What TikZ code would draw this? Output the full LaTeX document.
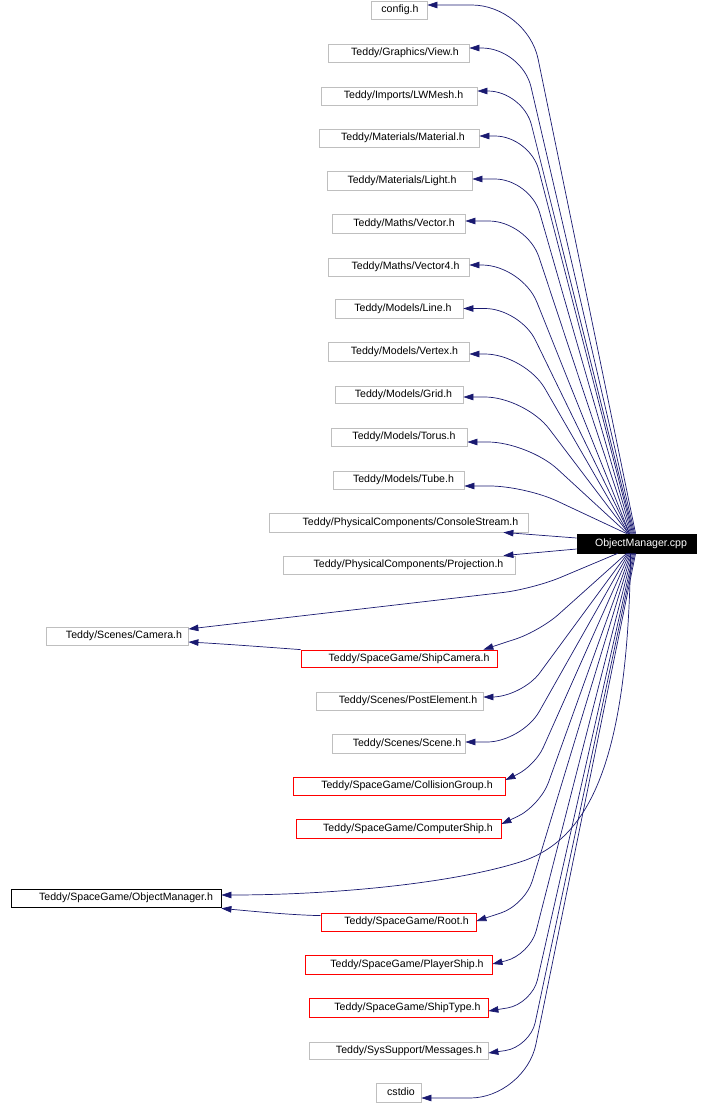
\documentclass[tikz,border=0pt]{standalone}
\usepackage{fontspec}
\setmainfont{Liberation Sans}
\usetikzlibrary{arrows.meta}
\definecolor{edgeblue}{HTML}{191970}
\definecolor{boxgray}{HTML}{BFBFBF}
\newcommand\gn[8]{\node[#6, minimum width={(#4-#2)*1pt}, minimum height={(#5-#3)*1pt}] (#1) at ({(#2+#4)/2},{(#3+#5)/2}) {\hspace*{#7pt}#8};}
\newcommand\pedge[4]{\draw[conn, rounded corners=#4pt] (#1) -- (#2) -- (#3);}
\begin{document}
\begin{tikzpicture}[x=1pt,y=-1pt,
  base/.style={rectangle, inner sep=1pt, line width=0.8pt, font=\fontsize{10.6}{12}\selectfont, text height=7.6pt, text depth=2pt},
  gbox/.style={base, draw=boxgray},
  rbox/.style={base, draw=red},
  kbox/.style={base, draw=black},
  cppbox/.style={base, draw=black, fill=black, text=white},
  conn/.style={draw=edgeblue, line width=0.7pt, -{Triangle[length=10pt,width=6.5pt]}}]
\useasboundingbox (0,0) rectangle (709,1104);
\gn{cfg}{371}{1}{427}{19}{gbox}{2}{config.h}
\gn{view}{328}{44}{469}{62}{gbox}{13}{Teddy/Graphics/View.h}
\gn{lwm}{321}{87}{477}{105}{gbox}{9}{Teddy/Imports/LWMesh.h}
\gn{mat}{319}{129}{479}{147}{gbox}{8}{Teddy/Materials/Material.h}
\gn{light}{327}{171}{472}{190}{gbox}{5}{Teddy/Materials/Light.h}
\gn{vec}{332}{214}{465}{233}{gbox}{11}{Teddy/Maths/Vector.h}
\gn{vec4}{328}{258}{469}{276}{gbox}{14}{Teddy/Maths/Vector4.h}
\gn{line}{335}{299}{463}{318}{gbox}{8}{Teddy/Models/Line.h}
\gn{vert}{328}{342}{469}{361}{gbox}{12}{Teddy/Models/Vertex.h}
\gn{grid}{335}{386}{463}{403}{gbox}{9}{Teddy/Models/Grid.h}
\gn{torus}{331}{428}{467}{446}{gbox}{10}{Teddy/Models/Torus.h}
\gn{tube}{333}{471}{464}{489}{gbox}{10}{Teddy/Models/Tube.h}
\gn{cs}{269}{513}{528}{532}{gbox}{24}{Teddy/PhysicalComponents/ConsoleStream.h}
\gn{proj}{283}{556}{515}{574}{gbox}{19}{Teddy/PhysicalComponents/Projection.h}
\gn{cpp}{577}{534}{696}{553}{cppbox}{9}{ObjectManager.cpp}
\gn{cam}{46}{627}{188}{645}{gbox}{14}{Teddy/Scenes/Camera.h}
\gn{sc}{301}{650}{497}{667}{rbox}{20}{Teddy/SpaceGame/ShipCamera.h}
\gn{post}{316}{692}{483}{710}{gbox}{17}{Teddy/Scenes/PostElement.h}
\gn{scene}{332}{734}{465}{753}{gbox}{17}{Teddy/Scenes/Scene.h}
\gn{coll}{293}{777}{505}{795}{rbox}{16}{Teddy/SpaceGame/CollisionGroup.h}
\gn{comp}{296}{819}{501}{838}{rbox}{19}{Teddy/SpaceGame/ComputerShip.h}
\gn{omh}{11}{889}{221}{907}{kbox}{20}{Teddy/SpaceGame/ObjectManager.h}
\gn{root}{321}{913}{476}{931}{rbox}{16}{Teddy/SpaceGame/Root.h}
\gn{ps}{305}{955}{492}{974}{rbox}{17}{Teddy/SpaceGame/PlayerShip.h}
\gn{st}{309}{998}{488}{1017}{rbox}{18}{Teddy/SpaceGame/ShipType.h}
\gn{msg}{309}{1042}{488}{1059}{gbox}{21}{Teddy/SysSupport/Messages.h}
\gn{cst}{376}{1083}{421}{1102}{gbox}{5}{cstdio}
% upper edges
\pedge{[xshift=59pt]cpp.north west}{527,5}{[yshift=5pt]cfg.east}{55}
\pedge{[xshift=58pt]cpp.north west}{522,48}{[yshift=5pt]view.east}{40}
\pedge{[xshift=57pt]cpp.north west}{523,91}{[yshift=5pt]lwm.east}{35}
\pedge{[xshift=56pt]cpp.north west}{530,136}{[yshift=2pt]mat.east}{35}
\pedge{[xshift=55pt]cpp.north west}{530,179}{[yshift=1.5pt]light.east}{35}
\pedge{[xshift=54pt]cpp.north west}{527,221}{[yshift=2.5pt]vec.east}{38}
\pedge{[xshift=53pt]cpp.north west}{522,265}{[yshift=2pt]vec4.east}{40}
\pedge{[xshift=53pt]cpp.north west}{520,308.5}{line.east}{35}
\pedge{[xshift=52pt]cpp.north west}{525,354}{[yshift=-2.5pt]vert.east}{40}
\pedge{[xshift=52pt]cpp.north west}{525,397}{[yshift=-2.5pt]grid.east}{40}
\pedge{[xshift=51pt]cpp.north west}{528,442}{[yshift=-5pt]torus.east}{40}
\pedge{[xshift=50pt]cpp.north west}{525,486}{[yshift=-6pt]tube.east}{35}
% side edges
\draw[conn] ([yshift=5.5pt]cpp.west) -- ([xshift=-25pt]cs.south east);
\draw[conn] ([yshift=-5.5pt]cpp.west) -- ([xshift=-12pt]proj.north east);
% lower edges
\pedge{[xshift=41pt]cpp.south west}{533,589}{[yshift=7pt]cam.east}{30}
\pedge{[xshift=50pt]cpp.south west}{540,631}{[xshift=-14pt]sc.north east}{25}
\pedge{[xshift=51pt]cpp.south west}{522,697}{[yshift=4pt]post.east}{30}
\pedge{[xshift=52pt]cpp.south west}{522,742}{[yshift=1.5pt]scene.east}{35}
\pedge{[xshift=53pt]cpp.south west}{535,766}{[yshift=6pt]coll.east}{20}
\pedge{[xshift=54pt]cpp.south west}{540,806}{[yshift=4.5pt]comp.east}{25}
\pedge{[xshift=55pt]cpp.south west}{525,905}{[yshift=1pt]root.east}{25}
\pedge{[xshift=56pt]cpp.south west}{530,955}{[yshift=0.5pt]ps.east}{25}
\pedge{[xshift=57pt]cpp.south west}{532,1004}{[yshift=-3.5pt]st.east}{25}
\pedge{[xshift=58pt]cpp.south west}{530,1047}{[yshift=-2.5pt]msg.east}{25}
\pedge{[xshift=59pt]cpp.south west}{525,1098}{[yshift=-5.5pt]cst.east}{55}
\draw[conn] ([xshift=54pt]cpp.south west) .. controls (628,760) and (590,840) .. (520,862) .. controls (450,884) and (330,895) .. ([yshift=3pt]omh.east);
\draw[conn] (sc.north west) .. controls (265,647) and (225,644) .. ([yshift=-6pt]cam.east);
\draw[conn] ([yshift=-3pt]root.north west) .. controls (290,915) and (250,911) .. ([yshift=-1pt]omh.south east);
\end{tikzpicture}
\end{document}
